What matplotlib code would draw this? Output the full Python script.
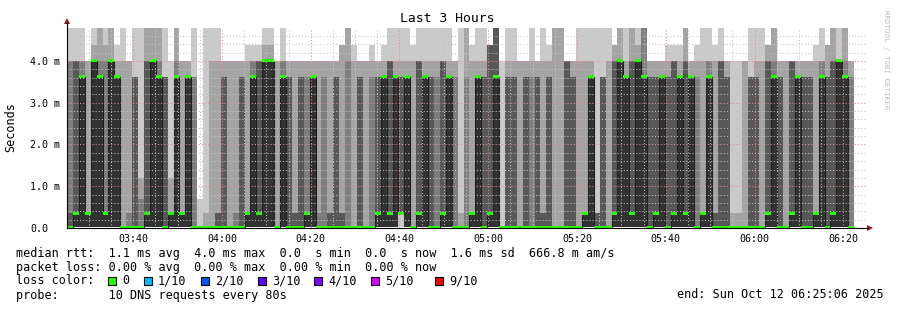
import numpy as np
import matplotlib
matplotlib.use('Agg')
from matplotlib import pyplot as plt
from matplotlib.patches import Rectangle, Polygon
from matplotlib.lines import Line2D

W, H = 897, 310

# ping levels in ms, one code letter per level
levels = {'0': 0.02, '1': 0.35, '2': 0.7, '7': 1.2, '3': 3.62, '4': 4.0, '5': 4.38, '6': 4.9}

# the 10 pings of every 80 s step (03:25:06 .. 06:22:26), as level codes
steps = [
    "0000001446", "0000014446", "0000033446", "0000011144", "0000044456",
    "0000033466", "0000011456", "0000044466", "0000033345", "0000000046",
    "0000000144", "0000003336", "0000000276", "0000014466", "0000044466",
    "0000033466", "0000003336", "0000011174", "0000033466", "0000011144",
    "0000033344", "0000000336", "0000000002", "0000000016", "0000000046",
    "0000001146", "0000003344", "0000000044", "0000000144", "0000003344",
    "0000011145", "0000033445", "0000014445", "0000044456", "0000044456",
    "0000000044", "0000033446", "0000003344", "0000001144", "0000003344",
    "0000011344", "0000033344", "0000000144", "0000000344", "0000001144",
    "0000003344", "0000001155", "0000000466", "0000000045", "0000003344",
    "0000000044", "0000000345", "0000013344", "0000033345", "0000014446",
    "0000033346", "0111113346", "0000033346", "0000000045", "0000014446",
    "0000033346", "0000003346", "0000000346", "0000014446", "0000033346",
    "0000000344", "0000000016", "0000000366", "0000011145", "0000033346",
    "0000003346", "0000015555", "0000036666", "0000000004", "0000003346",
    "0000003346", "0000000044", "0000003344", "0000000346", "0000003344",
    "0000001146", "0000003345", "0000000066", "0000000066", "0000004444",
    "0000003344", "0000000046", "0000011146", "0000033346", "0000001116",
    "0000003336", "0000000046", "0000014455", "0000044466", "0000033346",
    "0000014466", "0000044456", "0000033666", "0000003344", "0000013344",
    "0000033344", "0000003345", "0000014445", "0000033345", "0000014466",
    "0000033344", "0000000345", "0000011146", "0000033446", "0000001145",
    "0000004446", "0000003344", "0000000014", "0000000014", "0000000044",
    "0000003336", "0000003346", "0000000046", "0000014455", "0000033466",
    "0000003344", "0000000044", "0000014444", "0000033344", "0000003344",
    "0000003344", "0000011145", "0000033446", "0000003355", "0000014466",
    "0000044446", "0000033466", "0000000344",
]

start = 3 * 60 + 25 + 6 / 60   # minutes after midnight
step_min = 80 / 60

x_ticks = [220, 240, 260, 280, 300, 320, 340, 360, 380]
x_labels = ['03:40', '04:00', '04:20', '04:40', '05:00', '05:20', '05:40', '06:00', '06:20']
y_ticks = [0, 1, 2, 3, 4]
y_labels = ['0.0', '1.0 m', '2.0 m', '3.0 m', '4.0 m']

smoke_colors = ['#cacaca', '#a4a4a4', '#7e7e7e', '#585858', '#323232']
loss_colors = ['#26ff00', '#00b8ff', '#0059ff', '#5e00ff', '#7e00ff', '#dd00ff', '#ff0000']
loss_labels = ['0', '1/10', '2/10', '3/10', '4/10', '5/10', '9/10']
loss_chars = [13, 18, 26, 34, 42, 50, 59]

stat_lines = [
    "median rtt:  1.1 ms avg  4.0 ms max  0.0  s min  0.0  s now  1.6 ms sd  666.8 m am/s",
    "packet loss: 0.00 % avg  0.00 % max  0.00 % min  0.00 % now",
    "loss color:",
    "probe:       10 DNS requests every 80s",
]
end_text = "end: Sun Oct 12 06:25:06 2025"

mono = 'DejaVu Sans Mono'
cw = 0.602 * 8.5 * 100 / 72   # char width in px


def fx(x):
    return x / W


def fy(y):
    return 1 - y / H


pings = np.array([[levels[c] for c in s] for s in steps])
pings.sort(axis=1)
edges = start + step_min * np.arange(len(steps) + 1)
median = pings[:, 5]

fig = plt.figure(figsize=(W / 100, H / 100), dpi=100)
fig.patch.set_facecolor('white')
ax = fig.add_axes([fx(67), fy(228), (866 - 67) / W, 200 / H])
ax.set_xlim(start, start + 180)
ax.set_ylim(0, 4.79)

# smoke: outer pairs light, inner pairs dark
for i in range(5):
    ax.stairs(pings[:, 9 - i], edges, baseline=pings[:, i], fill=True,
              color=smoke_colors[i], lw=0, zorder=1)

# median line and loss coloured marks
ax.stairs(median, edges, baseline=None, color='#202020', lw=0.8, zorder=2)
ax.bar(edges[:-1], 0.072, bottom=median - 0.036, width=step_min, align='edge',
       color=loss_colors[0], lw=0, zorder=3)

# grid
ax.set_xticks(x_ticks, x_labels)
ax.set_xticks(np.arange(210, 386, 5), minor=True)
ax.set_yticks(y_ticks, y_labels)
ax.set_yticks(np.arange(0.2, 4.7, 0.2), minor=True)
ax.grid(which='minor', color='#c4c4c4', lw=0.75, ls=(0, (1, 2)))
ax.grid(which='major', color='#e58a8a', lw=0.75, ls=(0, (1, 2)))
ax.set_axisbelow(False)
ax.tick_params(which='both', length=0)
ax.tick_params(axis='x', pad=4.5, labelsize=7.2)
ax.tick_params(axis='y', pad=26.5, labelsize=7.2)
for lbl in ax.get_xticklabels() + ax.get_yticklabels():
    lbl.set_family(mono)
for lbl in ax.get_yticklabels():
    lbl.set_ha('left')
for s in ax.spines.values():
    s.set_visible(False)

# axes with arrows
fig.add_artist(Line2D([fx(67), fx(868)], [fy(228), fy(228)], transform=fig.transFigure, color='black', lw=0.8))
fig.add_artist(Line2D([fx(67), fx(67)], [fy(228), fy(23)], transform=fig.transFigure, color='black', lw=0.8))
fig.add_artist(Polygon([[fx(867), fy(225)], [fx(873), fy(228)], [fx(867), fy(231)]],
                       transform=fig.transFigure, color='#8b1a1a', lw=0))
fig.add_artist(Polygon([[fx(64), fy(24)], [fx(67), fy(18)], [fx(70), fy(24)]],
                       transform=fig.transFigure, color='#8b1a1a', lw=0))

# titles
fig.text(fx(447), fy(19), 'Last 3 Hours', ha='center', va='center', family=mono, size=9.4)
fig.text(fx(11), fy(127), 'Seconds', ha='center', va='center', rotation=90, family=mono, size=8.5)
fig.text(fx(886), fy(60), 'RRDTOOL / TOBI OETIKER', ha='center', va='center', rotation=270,
         family=mono, size=5.4, color='#bdbdbd')

# legend block
line_y = [254, 268, 281, 295]
for txt, y in zip(stat_lines, line_y):
    fig.text(fx(16), fy(y), txt, ha='left', va='center', family=mono, size=8.5)
for c, col, lab in zip(loss_chars, loss_colors, loss_labels):
    x0 = 16 + c * cw
    fig.add_artist(Rectangle((fx(x0), fy(line_y[2] + 4)), 8 / W, 8 / H, transform=fig.transFigure,
                             facecolor=col, edgecolor='black', lw=0.8))
    fig.text(fx(16 + (c + 2) * cw), fy(line_y[2]), lab, ha='left', va='center', family=mono, size=8.5)
fig.text(fx(16 + 93 * cw), fy(line_y[3]), end_text, ha='left', va='center', family=mono, size=8.5)

fig.savefig('out.png', dpi=100)
